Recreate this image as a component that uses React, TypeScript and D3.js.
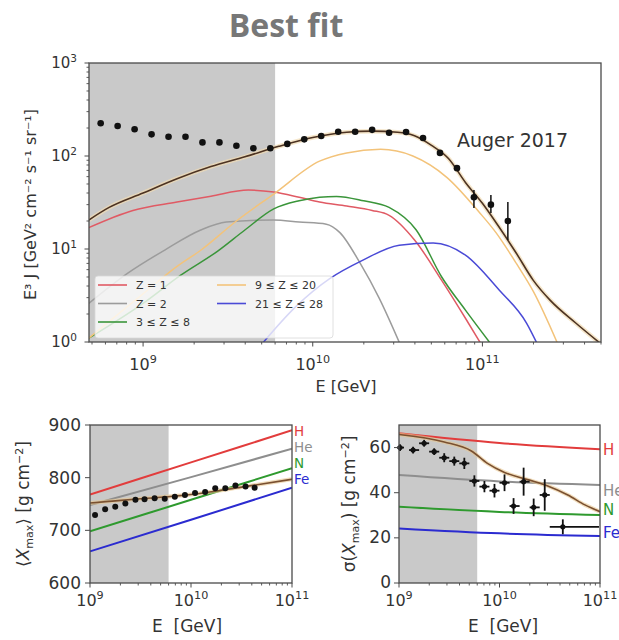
import React from "react";
import * as d3 from "d3";

const FONT = "'DejaVu Sans', sans-serif";
const INK = "#333";
const AXIS = "#4a4a4a";

// ---------------- Top panel: spectrum (Auger 2017) ----------------
const specLogE = [8.75, 8.85, 8.95, 9.05, 9.15, 9.25, 9.35, 9.45, 9.55, 9.65, 9.75, 9.85, 9.95, 10.05, 10.15, 10.25, 10.35, 10.45, 10.55, 10.65, 10.75, 10.85, 10.95, 11.05, 11.15];
const specFlux = [225, 210, 194, 171, 161, 161, 140, 140, 129, 121, 121, 135, 151, 164, 182, 182, 191, 178, 181, 156, 108, 74, 36, 30, 20];
const specErrLogE = [10.95, 11.05, 11.15];
const specErrLo = [27.6, 24.4, 12.5];
const specErrHi = [43, 38, 32];

const totalLogE = [8.68, 8.8, 9.0, 9.2, 9.4, 9.6, 9.8, 10.0, 10.2, 10.35, 10.5, 10.6, 10.7, 10.8, 10.9, 11.0, 11.1, 11.2, 11.3, 11.4, 11.55, 11.7];
const totalVal = [20.5, 28, 40, 57, 77, 98, 127, 158, 180, 185, 180, 165, 130, 94, 52, 31, 17, 9, 4.6, 2.8, 1.6, 0.95];

const z1LogE = [8.68, 8.94, 9.2, 9.4, 9.62, 9.77, 9.92, 10.04, 10.2, 10.35, 10.45, 10.6, 10.76, 10.9, 11.0];
const z1Val = [17, 26, 32, 37, 43, 41, 36, 32, 29, 26, 23, 12.5, 4.6, 1.8, 0.9];
const z2LogE = [8.68, 8.91, 9.13, 9.34, 9.49, 9.77, 9.92, 10.08, 10.16, 10.28, 10.39, 10.52];
const z2Val = [2.6, 5.5, 9.8, 16, 19.5, 20.5, 19.5, 18.5, 15, 7, 3, 0.9];
const z3LogE = [8.68, 9.0, 9.22, 9.44, 9.6, 9.77, 9.92, 10.04, 10.14, 10.3, 10.45, 10.61, 10.76, 10.9, 11.06];
const z3Val = [1.1, 2.6, 5.2, 9.5, 16, 27, 33, 36, 36.8, 33, 28, 16, 5, 2.2, 0.9];
const z4LogE = [8.68, 9.0, 9.2, 9.34, 9.55, 9.77, 10.04, 10.2, 10.4, 10.59, 10.79, 10.98, 11.08, 11.2, 11.3, 11.45];
const z4Val = [1.1, 3.3, 6.5, 9.7, 20, 39, 88, 108, 118, 100, 59, 25, 15, 7, 3.5, 0.9];
const z5LogE = [9.7, 9.9, 10.1, 10.29, 10.51, 10.71, 10.9, 11.1, 11.26, 11.33];
const z5Val = [0.95, 2.4, 4.8, 7.5, 11, 11.6, 8.6, 3.6, 1.6, 0.9];

const compLabels = ["Z = 1", "Z = 2", "3 ≤ Z ≤ 8", "9 ≤ Z ≤ 20", "21 ≤ Z ≤ 28"];
const compColors = ["#e05a64", "#9c9c9c", "#3a953a", "#f3c37a", "#4a4ad6"];
const TOTAL_COLOR = "#4d3322";

// ---------------- Bottom panels ----------------
const massLabels = ["H", "He", "N", "Fe"];
const massColors = ["#e23c3c", "#8e8e8e", "#2e9a2e", "#2b2bd0"];
const massLogE = [9, 10, 11];
const xmaxH = [768, 829, 890];
const xmaxHe = [748, 801, 855];
const xmaxN = [698, 758, 818];
const xmaxFe = [660, 720, 781];
const xmaxFitLogE = [9, 9.5, 10, 10.5, 11];
const xmaxFitVal = [752, 760, 768, 782, 797];
const xmaxDataLogE = [9.05, 9.15, 9.25, 9.35, 9.45, 9.54, 9.64, 9.74, 9.84, 9.94, 10.04, 10.14, 10.24, 10.34, 10.44, 10.54, 10.63];
const xmaxDataVal = [729, 740, 745, 751, 758, 759, 761, 760, 764, 767, 771, 773, 780, 780, 785, 783, 781];

const sigH = [66.3, 62, 59.3];
const sigHe = [47.8, 45, 43.4];
const sigN = [33.8, 31.5, 30.1];
const sigFe = [24.2, 22, 20.8];
const sigFitLogE = [9, 9.45, 9.72, 9.88, 10.05, 10.28, 10.48, 10.68, 10.85, 11];
const sigFitVal = [65.8, 62.5, 58.5, 53, 49, 45.8, 43, 39, 34.6, 31.6];
const sigDataLogE = [9.01, 9.14, 9.25, 9.35, 9.45, 9.55, 9.65, 9.75, 9.85, 9.95, 10.05, 10.14, 10.24, 10.34, 10.45, 10.63];
const sigDataVal = [60, 58.9, 61.9, 58.2, 55.5, 54, 53, 45.2, 42.7, 40.9, 44.4, 34.1, 44.9, 33.5, 39, 24.9];
const sigDataErr = [1.5, 1.5, 1.5, 1.5, 2, 2, 2.5, 2.5, 2.5, 3, 3.7, 3.5, 6.2, 3.9, 7, 3.3];
const sigDataELo = [8.98, 9.1, 9.2, 9.3, 9.4, 9.5, 9.6, 9.7, 9.8, 9.9, 10.0, 10.1, 10.2, 10.3, 10.4, 10.5];
const sigDataEHi = [9.05, 9.2, 9.3, 9.4, 9.5, 9.6, 9.7, 9.8, 9.9, 10.0, 10.1, 10.2, 10.3, 10.4, 10.5, 10.99];

const SHADE_END = 6e9;

function logTicks(lo: number, hi: number) {
  const majors: number[] = [];
  const minors: number[] = [];
  for (let e = Math.floor(Math.log10(lo)); e <= Math.ceil(Math.log10(hi)); e++) {
    for (let k = 1; k < 10; k++) {
      const v = k * Math.pow(10, e);
      if (v < lo * 0.999 || v > hi * 1.001) continue;
      (k === 1 ? majors : minors).push(v);
    }
  }
  return { majors, minors };
}

function pathOf(lx: number[], v: number[], xs: any, ys: any) {
  const idx = v.map((_, i) => i);
  return d3
    .line<number>()
    .x((i) => xs(Math.pow(10, lx[i])))
    .y((i) => ys(v[i]))
    .curve(d3.curveMonotoneX)(idx) as string;
}

function Pow({ x, y, base, exp, size, anchor }: any) {
  return (
    <text x={x} y={y} fontSize={size} textAnchor={anchor} fontFamily={FONT} fill={INK}>
      {base}
      <tspan dy={-size * 0.42} fontSize={size * 0.7}>
        {exp}
      </tspan>
    </text>
  );
}

function XLogAxis({ xs, y, size, labelY }: any) {
  const [lo, hi] = xs.domain();
  const { majors, minors } = logTicks(lo, hi);
  return (
    <g>
      {minors.map((v: number) => (
        <line key={"m" + v} x1={xs(v)} x2={xs(v)} y1={y} y2={y + 2.5} stroke={AXIS} strokeWidth={0.9} />
      ))}
      {majors.map((v: number) => (
        <g key={"M" + v}>
          <line x1={xs(v)} x2={xs(v)} y1={y} y2={y + 4.5} stroke={AXIS} strokeWidth={1} />
          <Pow x={xs(v)} y={labelY} base="10" exp={String(Math.round(Math.log10(v)))} size={size} anchor="middle" />
        </g>
      ))}
    </g>
  );
}

export default function App() {
  // top
  const TL = 89, TR = 601, TT = 63, TB = 342;
  const xT = d3.scaleLog().domain([4.8e8, 5e11]).range([TL, TR]);
  const yT = d3.scaleLog().domain([1, 1000]).range([TB, TT]);
  const yTicks = logTicks(1, 1000);

  // bottom
  const BT = 425, BB = 583;
  const xB1 = d3.scaleLog().domain([1e9, 1e11]).range([90, 292]);
  const yB1 = d3.scaleLinear().domain([600, 900]).range([BB, BT]);
  const xB2 = d3.scaleLog().domain([1e9, 1e11]).range([399, 600]);
  const yB2 = d3.scaleLinear().domain([0, 70]).range([BB, BT]);

  const comps = [
    [z1LogE, z1Val],
    [z2LogE, z2Val],
    [z3LogE, z3Val],
    [z4LogE, z4Val],
    [z5LogE, z5Val],
  ];
  const xmaxLines = [xmaxH, xmaxHe, xmaxN, xmaxFe];
  const sigLines = [sigH, sigHe, sigN, sigFe];
  const xmaxLabelY = [431, 447, 463, 479];
  const sigLabelY = [450, 491, 510, 533];

  const legendItems = [
    { col: 0, row: 0, i: 0 },
    { col: 0, row: 1, i: 1 },
    { col: 0, row: 2, i: 2 },
    { col: 1, row: 0, i: 3 },
    { col: 1, row: 1, i: 4 },
  ];

  return (
    <div style={{ position: "absolute", left: 0, top: 0 }}>
      <svg width={619} height={640} style={{ display: "block", background: "#fff" }}>
        <defs>
          <clipPath id="cTop">
            <rect x={TL} y={TT} width={TR - TL} height={TB - TT} />
          </clipPath>
          <clipPath id="cB1">
            <rect x={90} y={BT} width={202} height={BB - BT} />
          </clipPath>
          <clipPath id="cB2">
            <rect x={399} y={BT} width={201} height={BB - BT} />
          </clipPath>
        </defs>

        {/* Title */}
        <text x={286} y={37} textAnchor="middle" fontFamily="'Open Sans', sans-serif" fontWeight={700} fontSize={32} fill="#777">
          Best fit
        </text>

        {/* ---------- TOP PANEL ---------- */}
        <rect x={TL} y={TT} width={xT(SHADE_END) - TL} height={TB - TT} fill="#c9c9c9" />
        <g clipPath="url(#cTop)" fill="none">
          {comps.map(([lx, v], k) => (
            <path key={k} d={pathOf(lx as number[], v as number[], xT, yT)} stroke={compColors[k]} strokeWidth={1.5} />
          ))}
          <path d={pathOf(totalLogE, totalVal, xT, yT)} stroke="#f1dcb4" strokeWidth={4.5} opacity={0.7} />
          <path d={pathOf(totalLogE, totalVal, xT, yT)} stroke={TOTAL_COLOR} strokeWidth={1.6} />
        </g>
        {specErrLogE.map((e, i) => (
          <line key={"err" + i} x1={xT(Math.pow(10, e))} x2={xT(Math.pow(10, e))} y1={yT(specErrLo[i])} y2={yT(specErrHi[i])} stroke="#111" strokeWidth={1.5} />
        ))}
        {specLogE.map((e, i) => (
          <circle key={"d" + i} cx={xT(Math.pow(10, e))} cy={yT(specFlux[i])} r={3.3} fill="#111" />
        ))}
        <text x={457} y={147} fontFamily={FONT} fontSize={19} fill={INK}>
          Auger 2017
        </text>

        {/* legend */}
        <rect x={95} y={276} width={238} height={62} rx={3} fill="#fff" fillOpacity={0.78} stroke="#d8d8d8" strokeWidth={0.8} />
        {legendItems.map(({ col, row, i }) => {
          const lx = col === 0 ? 98 : 217;
          const ly = 285 + row * 18.5;
          return (
            <g key={"lg" + i}>
              <line x1={lx} x2={lx + 29} y1={ly} y2={ly} stroke={compColors[i]} strokeWidth={1.6} />
              <text x={lx + 38} y={ly + 4} fontFamily={FONT} fontSize={11} fill={INK}>
                {compLabels[i]}
              </text>
            </g>
          );
        })}

        {/* frame + axes */}
        <rect x={TL} y={TT} width={TR - TL} height={TB - TT} fill="none" stroke={AXIS} strokeWidth={1.3} />
        {yTicks.minors.map((v) => (
          <line key={"ym" + v} x1={TL} x2={TL - 2.5} y1={yT(v)} y2={yT(v)} stroke={AXIS} strokeWidth={0.9} />
        ))}
        {yTicks.majors.map((v) => (
          <g key={"yM" + v}>
            <line x1={TL} x2={TL - 4.5} y1={yT(v)} y2={yT(v)} stroke={AXIS} strokeWidth={1} />
            <Pow x={77} y={yT(v) + 5} base="10" exp={String(Math.round(Math.log10(v)))} size={15} anchor="end" />
          </g>
        ))}
        <XLogAxis xs={xT} y={TB} size={16} labelY={370} />
        <text x={346} y={392} textAnchor="middle" fontFamily={FONT} fontSize={16} fill={INK}>
          E [GeV]
        </text>
        <text transform={`translate(36,${(TT + TB) / 2 + 2}) rotate(-90)`} textAnchor="middle" fontFamily={FONT} fontSize={16} fill={INK}>
          E³ J [GeV² cm⁻² s⁻¹ sr⁻¹]
        </text>

        {/* ---------- BOTTOM LEFT: <Xmax> ---------- */}
        <rect x={90} y={BT} width={xB1(SHADE_END) - 90} height={BB - BT} fill="#c9c9c9" />
        <g clipPath="url(#cB1)" fill="none">
          {xmaxLines.map((v, k) => (
            <path key={k} d={pathOf(massLogE, v, xB1, yB1)} stroke={massColors[k]} strokeWidth={2} />
          ))}
          <path d={pathOf(xmaxFitLogE, xmaxFitVal, xB1, yB1)} stroke="#e8c690" strokeWidth={4} opacity={0.6} />
          <path d={pathOf(xmaxFitLogE, xmaxFitVal, xB1, yB1)} stroke="#7a5030" strokeWidth={1.6} />
        </g>
        {xmaxDataLogE.map((e, i) => (
          <circle key={"xd" + i} cx={xB1(Math.pow(10, e))} cy={yB1(xmaxDataVal[i])} r={3} fill="#111" />
        ))}
        <rect x={90} y={BT} width={202} height={BB - BT} fill="none" stroke={AXIS} strokeWidth={1.3} />
        {[600, 700, 800, 900].map((v) => (
          <g key={"xy" + v}>
            <line x1={90} x2={85} y1={yB1(v)} y2={yB1(v)} stroke={AXIS} strokeWidth={1} />
            <text x={81} y={yB1(v) + 6} textAnchor="end" fontFamily={FONT} fontSize={17} fill={INK}>
              {v}
            </text>
          </g>
        ))}
        <XLogAxis xs={xB1} y={BB} size={16} labelY={606} />
        <text x={187} y={632} textAnchor="middle" fontFamily={FONT} fontSize={17} fill={INK} xmlSpace="preserve">
          E  [GeV]
        </text>
        <text transform={`translate(29,${(BT + BB) / 2}) rotate(-90)`} textAnchor="middle" fontFamily={FONT} fontSize={17} fill={INK}>
          ⟨<tspan fontStyle="italic">X</tspan>
          <tspan dy={4} fontSize={11}>max</tspan>
          <tspan dy={-4}>⟩ [g cm</tspan>
          <tspan dy={-6} fontSize={11}>−2</tspan>
          <tspan dy={6}>]</tspan>
        </text>
        {massLabels.map((m, k) => (
          <text key={"ml" + m} x={294} y={xmaxLabelY[k] + 5} fontFamily={FONT} fontSize={13.5} fill={massColors[k]}>
            {m}
          </text>
        ))}

        {/* ---------- BOTTOM RIGHT: sigma(Xmax) ---------- */}
        <rect x={399} y={BT} width={xB2(SHADE_END) - 399} height={BB - BT} fill="#c9c9c9" />
        <g clipPath="url(#cB2)" fill="none">
          {sigLines.map((v, k) => (
            <path key={k} d={pathOf(massLogE, v, xB2, yB2)} stroke={massColors[k]} strokeWidth={2} />
          ))}
          <path d={pathOf(sigFitLogE, sigFitVal, xB2, yB2)} stroke="#e8c690" strokeWidth={4} opacity={0.6} />
          <path d={pathOf(sigFitLogE, sigFitVal, xB2, yB2)} stroke="#7a5030" strokeWidth={1.6} />
        </g>
        {sigDataLogE.map((e, i) => (
          <g key={"sd" + i} stroke="#111" strokeWidth={1.8}>
            <line x1={xB2(Math.pow(10, sigDataELo[i]))} x2={xB2(Math.pow(10, sigDataEHi[i]))} y1={yB2(sigDataVal[i])} y2={yB2(sigDataVal[i])} />
            <line x1={xB2(Math.pow(10, e))} x2={xB2(Math.pow(10, e))} y1={yB2(sigDataVal[i] - sigDataErr[i])} y2={yB2(sigDataVal[i] + sigDataErr[i])} />
            <circle cx={xB2(Math.pow(10, e))} cy={yB2(sigDataVal[i])} r={2.6} fill="#111" stroke="none" />
          </g>
        ))}
        <rect x={399} y={BT} width={201} height={BB - BT} fill="none" stroke={AXIS} strokeWidth={1.3} />
        {[0, 20, 40, 60].map((v) => (
          <g key={"sy" + v}>
            <line x1={399} x2={394} y1={yB2(v)} y2={yB2(v)} stroke={AXIS} strokeWidth={1} />
            <text x={391} y={yB2(v) + 5} textAnchor="end" fontFamily={FONT} fontSize={17} fill={INK}>
              {v}
            </text>
          </g>
        ))}
        <XLogAxis xs={xB2} y={BB} size={16} labelY={606} />
        <text x={503} y={632} textAnchor="middle" fontFamily={FONT} fontSize={17} fill={INK} xmlSpace="preserve">
          E  [GeV]
        </text>
        <text transform={`translate(355,${(BT + BB) / 2}) rotate(-90)`} textAnchor="middle" fontFamily={FONT} fontSize={17} fill={INK}>
          σ(<tspan fontStyle="italic">X</tspan>
          <tspan dy={4} fontSize={11}>max</tspan>
          <tspan dy={-4}>) [g cm</tspan>
          <tspan dy={-6} fontSize={11}>−2</tspan>
          <tspan dy={6}>]</tspan>
        </text>
        {massLabels.map((m, k) => (
          <text key={"sl" + m} x={603} y={sigLabelY[k] + 5} fontFamily={FONT} fontSize={15} fill={massColors[k]}>
            {m}
          </text>
        ))}
      </svg>
    </div>
  );
}
